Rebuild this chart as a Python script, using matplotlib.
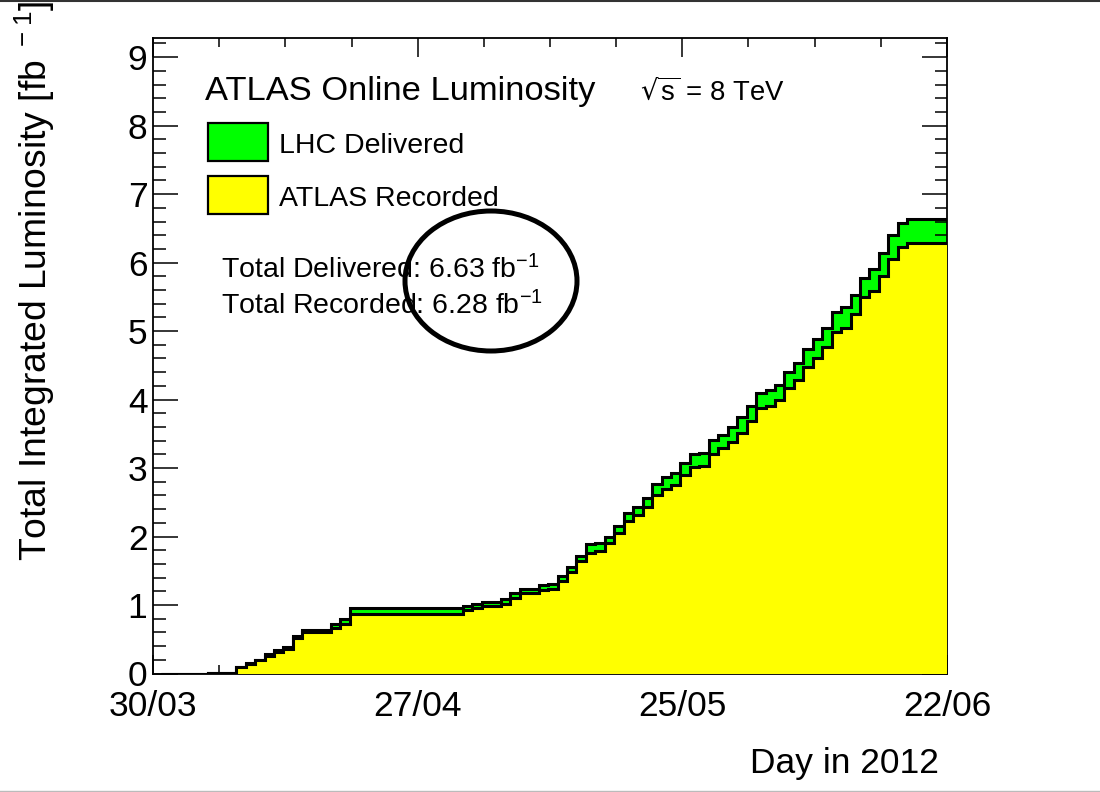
import numpy as np
import matplotlib
matplotlib.use("Agg")
import matplotlib.pyplot as plt
from matplotlib.patches import Rectangle, Ellipse
from matplotlib.lines import Line2D
from matplotlib.ticker import FixedLocator, MultipleLocator

# ---------------- data (cumulative, fb^-1, one value per day bin) ----------------
delivered = ([0.0] * 5 + [0.012] * 3 +
             [0.10, 0.15, 0.20, 0.28, 0.34, 0.38, 0.55] +
             [0.64] * 3 + [0.72, 0.80] + [0.95] * 12 +
             [0.99, 1.02, 1.04, 1.04, 1.09, 1.17, 1.24, 1.24, 1.29, 1.31,
              1.42, 1.55, 1.72, 1.89, 1.90, 2.00, 2.15, 2.34, 2.43, 2.57,
              2.76, 2.87, 2.93, 3.08, 3.21, 3.22, 3.41, 3.49, 3.60, 3.74,
              3.90, 4.10, 4.14, 4.21, 4.40, 4.53, 4.74, 4.88, 5.05, 5.28,
              5.35, 5.53, 5.78, 5.90, 6.14, 6.40, 6.58] + [6.63] * 5)
recorded = ([0.0] * 5 + [0.010] * 3 +
            [0.09, 0.14, 0.19, 0.26, 0.32, 0.36, 0.52] +
            [0.61] * 3 + [0.67, 0.73] + [0.87] * 12 +
            [0.92, 0.96, 0.98, 0.98, 1.02, 1.10, 1.17, 1.17, 1.22, 1.24,
             1.35, 1.48, 1.64, 1.76, 1.79, 1.90, 2.05, 2.22, 2.31, 2.43,
             2.61, 2.70, 2.75, 2.90, 3.02, 3.03, 3.21, 3.30, 3.38, 3.51,
             3.68, 3.88, 3.91, 3.99, 4.17, 4.28, 4.48, 4.61, 4.77, 4.99,
             5.05, 5.25, 5.50, 5.59, 5.80, 6.05, 6.23] + [6.28] * 5)
x_tick_days = [0, 28, 56, 84]
x_tick_labels = ["30/03", "27/04", "25/05", "22/06"]
series_labels = ["LHC Delivered", "ATLAS Recorded"]
total_delivered = 6.63
total_recorded = 6.28

# ---------------- style ----------------
plt.rcParams["font.family"] = ["Liberation Sans", "DejaVu Sans"]
plt.rcParams["mathtext.default"] = "regular"

W, H = 1100, 792
fig = plt.figure(figsize=(W / 100, H / 100), dpi=100)


def fx(px):
    return px / W


def fy(py):
    return 1 - py / H


ax_l, ax_r, ax_t, ax_b = 153, 947, 38, 673.5
ax = fig.add_axes([fx(ax_l), fy(ax_b), fx(ax_r - ax_l), (ax_b - ax_t) / H])

GREEN = "#00ff00"
YELLOW = "#ffff00"
n = len(delivered)
edges = np.arange(n + 1) + 0.8

ax.stairs(delivered, edges, fill=True, color=GREEN, lw=0, zorder=1)
ax.stairs(delivered, edges, color="black", lw=2.2, zorder=2)
ax.stairs(recorded, edges, fill=True, color=YELLOW, lw=0, zorder=3)
ax.stairs(recorded, edges, color="black", lw=2.2, zorder=4)

ax.set_xlim(0, 84)
ax.set_ylim(0, 9.28)

ax.xaxis.set_major_locator(FixedLocator(x_tick_days))
ax.set_xticklabels(x_tick_labels)
ax.xaxis.set_minor_locator(MultipleLocator(7))
ax.yaxis.set_major_locator(MultipleLocator(1))
ax.yaxis.set_minor_locator(MultipleLocator(0.2))

ax.tick_params(which="both", direction="in", top=True, right=True, width=1.1,
               colors="black", labelsize=25.5)
ax.xaxis.set_tick_params(which="major", length=13.5, pad=12)
ax.xaxis.set_tick_params(which="minor", length=6.8)
ax.yaxis.set_tick_params(which="major", length=18, pad=4)
ax.yaxis.set_tick_params(which="minor", length=9)
for s in ax.spines.values():
    s.set_linewidth(1.3)

# axis titles (the reference's title runs past the top edge)
fig.text(fx(35), fy(561), r"Total Integrated Luminosity [fb$^{\ -1}$]",
         rotation=90, ha="center", va="bottom", fontsize=26.8)
fig.text(fx(939), fy(773), "Day in 2012", ha="right", va="baseline", fontsize=25.5)

# legend / labels
fig.text(fx(205), fy(100), "ATLAS Online Luminosity", ha="left", va="baseline",
         fontsize=24.8)
fig.text(fx(640), fy(100), r"$\sqrt{s}$ = 8 TeV", ha="left", va="baseline",
         fontsize=19.8)
for lab, col, top in zip(series_labels, [GREEN, YELLOW], [123, 176]):
    fig.add_artist(Rectangle((fx(208), fy(top + 38)), fx(60), 38 / H,
                             transform=fig.transFigure, facecolor=col,
                             edgecolor="black", lw=1.6))
    fig.text(fx(279), fy(top + 30), lab, ha="left", va="baseline", fontsize=20.5)

fig.text(fx(221), fy(278), f"Total Delivered: {total_delivered:.2f} fb$^{{-1}}$",
         ha="left", va="baseline", fontsize=20.5)
fig.text(fx(221), fy(314), f"Total Recorded: {total_recorded:.2f} fb$^{{-1}}$",
         ha="left", va="baseline", fontsize=20.5)

# hand-drawn style ellipse annotation
fig.add_artist(Ellipse((fx(491), fy(281)), fx(172), 140 / H,
                       transform=fig.transFigure, fill=False,
                       edgecolor="black", lw=3.6))

# frame lines at the image top and bottom
fig.add_artist(Line2D([0, 1], [fy(1), fy(1)], transform=fig.transFigure,
                      color="#333333", lw=1.5))
fig.add_artist(Line2D([0, 1], [fy(790.5), fy(790.5)], transform=fig.transFigure,
                      color="#bbbbbb", lw=1.0))

fig.savefig("out.png", dpi=100)
